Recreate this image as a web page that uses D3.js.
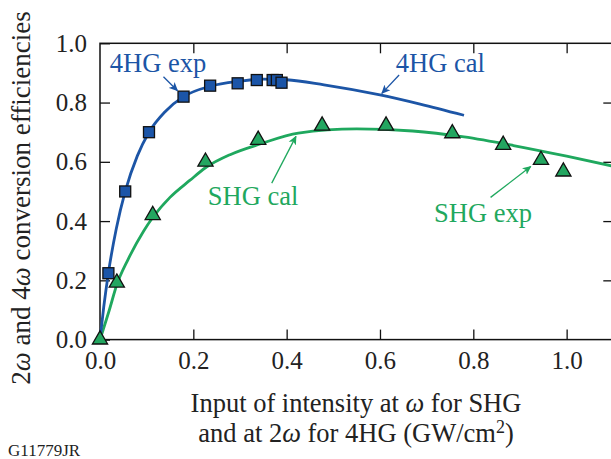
<!DOCTYPE html>
<html>
<head>
<meta charset="utf-8">
<script src="https://cdn.jsdelivr.net/npm/d3@7"></script>
<style>
  body { margin: 0; background: #fff; }
  svg { display: block; }
  text { font-family: "Liberation Serif", "Times New Roman", serif; }
</style>
</head>
<body>
<div id="chart"></div>
<script>
// values
const xTicks = [0.0, 0.2, 0.4, 0.6, 0.8, 1.0];
const yTicks = [0.0, 0.2, 0.4, 0.6, 0.8, 1.0];

// 4HG measured (squares)
const fhgExpX = [0.018, 0.054, 0.105, 0.179, 0.236, 0.295, 0.336, 0.370, 0.379, 0.389];
const fhgExpY = [0.224, 0.500, 0.700, 0.820, 0.857, 0.865, 0.876, 0.876, 0.876, 0.867];

// 4HG calculated curve
const fhgCalX = [0, 0.008, 0.018, 0.035, 0.054, 0.08, 0.105, 0.14, 0.179, 0.236, 0.30, 0.35, 0.40, 0.48, 0.60, 0.686, 0.78];
const fhgCalY = [0, 0.110, 0.225, 0.375, 0.500, 0.62, 0.700, 0.77, 0.820, 0.855, 0.872, 0.879, 0.877, 0.86, 0.826, 0.795, 0.757];

// SHG measured (triangles)
const shgExpX = [0.0, 0.036, 0.113, 0.226, 0.339, 0.476, 0.613, 0.755, 0.864, 0.945, 0.993];
const shgExpY = [0.0, 0.192, 0.420, 0.600, 0.674, 0.722, 0.722, 0.696, 0.657, 0.606, 0.567];

// SHG calculated curve
const shgCalX = [0, 0.02, 0.036, 0.06, 0.093, 0.113, 0.15, 0.193, 0.226, 0.28, 0.343, 0.425, 0.55, 0.67, 0.78, 0.886, 1.0, 1.1];
const shgCalY = [0, 0.10, 0.185, 0.27, 0.365, 0.412, 0.48, 0.538, 0.580, 0.625, 0.660, 0.697, 0.711, 0.704, 0.684, 0.655, 0.619, 0.585];

const blue = "#1c55a6";
const green = "#1fa85e";

const W = 611, H = 459;
const x = d3.scaleLinear().domain([0, 1.1]).range([100, 613.3]);
const y = d3.scaleLinear().domain([0, 1.0]).range([339.6, 43.3]);

const svg = d3.select("#chart").append("svg")
    .attr("width", W)
    .attr("height", H);

svg.append("defs").selectAll("marker")
    .data([["arrowBlue", blue], ["arrowGreen", green]])
    .enter().append("marker")
    .attr("id", d => d[0])
    .attr("viewBox", "0 0 10 10")
    .attr("refX", 9)
    .attr("refY", 5)
    .attr("markerWidth", 9)
    .attr("markerHeight", 9)
    .attr("markerUnits", "userSpaceOnUse")
    .attr("orient", "auto")
    .append("path")
    .attr("d", "M0,0.5 L10,5 L0,9.5 L2.5,5 Z")
    .attr("fill", d => d[1]);

// axes with inward ticks
const fs = 25;     // tick labels
const fsT = 26.5;  // titles and notes
svg.append("g")
    .attr("transform", `translate(0,${y(0)})`)
    .call(d3.axisBottom(x).tickValues(xTicks).tickSizeInner(-10).tickSizeOuter(0).tickPadding(12)
        .tickFormat(d3.format(".1f")));
svg.append("g")
    .attr("transform", `translate(${x(0)},0)`)
    .call(d3.axisLeft(y).tickValues(yTicks).tickSizeInner(-10).tickSizeOuter(0).tickPadding(13)
        .tickFormat(d3.format(".1f")));
svg.append("g")
    .attr("transform", `translate(0,${y(1)})`)
    .call(d3.axisTop(x).tickValues(xTicks.slice(1)).tickSizeInner(-10).tickSizeOuter(0).tickFormat(""));
svg.append("g")
    .attr("transform", `translate(${x(1.1)},0)`)
    .call(d3.axisRight(y).tickValues(yTicks.slice(1, -1)).tickSizeInner(-10).tickSizeOuter(0).tickFormat(""));

svg.selectAll(".domain").remove();
svg.selectAll(".tick line").attr("stroke", "#111").attr("stroke-width", 1.3);
svg.selectAll(".tick text")
    .style("font-size", fs + "px")
    .style("font-family", '"Liberation Serif", "Times New Roman", serif')
    .attr("fill", "#222");

svg.append("rect")
    .attr("x", x(0)).attr("y", y(1))
    .attr("width", x(1.1) - x(0)).attr("height", y(0) - y(1))
    .attr("fill", "none").attr("stroke", "#111").attr("stroke-width", 1.5);

const line = d3.line()
    .x(d => x(d[0]))
    .y(d => y(d[1]))
    .curve(d3.curveMonotoneX);

svg.append("path")
    .datum(d3.zip(shgCalX, shgCalY))
    .attr("d", line)
    .attr("fill", "none").attr("stroke", green).attr("stroke-width", 2.8);

svg.append("path")
    .datum(d3.zip(fhgCalX, fhgCalY))
    .attr("d", line)
    .attr("fill", "none").attr("stroke", blue).attr("stroke-width", 2.8);

// markers
const tri = d3.symbol().type(d3.symbolTriangle).size(100);
svg.selectAll(".tri")
    .data(d3.zip(shgExpX, shgExpY))
    .enter().append("path")
    .attr("class", "tri")
    .attr("transform", d => `translate(${x(d[0])},${y(d[1])})`)
    .attr("d", tri)
    .attr("fill", "#23a660").attr("stroke", "#111").attr("stroke-width", 1.3);

const sq = 11;
svg.selectAll(".sq")
    .data(d3.zip(fhgExpX, fhgExpY))
    .enter().append("rect")
    .attr("class", "sq")
    .attr("x", d => x(d[0]) - sq / 2)
    .attr("y", d => y(d[1]) - sq / 2)
    .attr("width", sq).attr("height", sq)
    .attr("fill", "#1b55a8").attr("stroke", "#111").attr("stroke-width", 1.3);

// annotations
const notes = [
    { text: "4HG exp", tx: 0.021, ty: 0.904, ax: [0.136, 0.887], bx: [0.166, 0.840], color: blue, m: "arrowBlue" },
    { text: "4HG cal", tx: 0.634, ty: 0.904, ax: [0.641, 0.893], bx: [0.604, 0.831], color: blue, m: "arrowBlue" },
    { text: "SHG cal", tx: 0.231, ty: 0.454, ax: [0.368, 0.528], bx: [0.420, 0.686], color: green, m: "arrowGreen" },
    { text: "SHG exp", tx: 0.716, ty: 0.398, ax: [0.837, 0.480], bx: [0.923, 0.584], color: green, m: "arrowGreen" }
];

notes.forEach(n => {
    svg.append("text")
        .attr("x", x(n.tx)).attr("y", y(n.ty))
        .attr("fill", n.color)
        .style("font-size", fsT + "px")
        .text(n.text);
    svg.append("line")
        .attr("x1", x(n.ax[0])).attr("y1", y(n.ax[1]))
        .attr("x2", x(n.bx[0])).attr("y2", y(n.bx[1]))
        .attr("stroke", n.color).attr("stroke-width", 1.3)
        .attr("marker-end", `url(#${n.m})`);
});

// axis titles
const yt = svg.append("text")
    .attr("transform", "translate(30,198) rotate(-90)")
    .attr("text-anchor", "middle")
    .attr("fill", "#222")
    .style("font-size", "27px");
yt.append("tspan").text("2");
yt.append("tspan").style("font-style", "italic").text("ω");
yt.append("tspan").text(" and 4");
yt.append("tspan").style("font-style", "italic").text("ω");
yt.append("tspan").text(" conversion efficiencies");

const xt1 = svg.append("text")
    .attr("x", 356).attr("y", 411.7)
    .attr("text-anchor", "middle")
    .attr("fill", "#222")
    .style("font-size", fsT + "px");
xt1.append("tspan").text("Input of intensity at ");
xt1.append("tspan").style("font-style", "italic").text("ω");
xt1.append("tspan").text(" for SHG");

const xt2 = svg.append("text")
    .attr("x", 356).attr("y", 441.7)
    .attr("text-anchor", "middle")
    .attr("fill", "#222")
    .style("font-size", fsT + "px");
xt2.append("tspan").text("and at 2");
xt2.append("tspan").style("font-style", "italic").text("ω");
xt2.append("tspan").text(" for 4HG (GW/cm");
xt2.append("tspan").attr("dy", -9).style("font-size", "18px").text("2");
xt2.append("tspan").attr("dy", 9).text(")");

svg.append("text")
    .attr("x", 8).attr("y", 456)
    .attr("fill", "#222")
    .style("font-size", "17px")
    .text("G11779JR");
</script>
</body>
</html>
